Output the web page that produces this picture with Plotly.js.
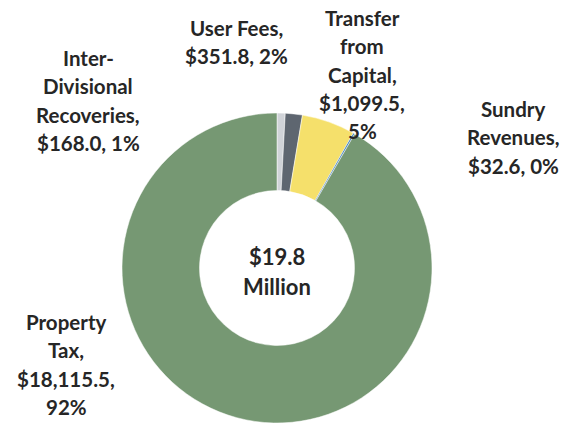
<!DOCTYPE html>
<html>
<head>
<meta charset="utf-8">
<script src="https://cdn.plot.ly/plotly-3.0.1.min.js"></script>
<style>html,body{margin:0;padding:0;background:#fff;}#chart{width:571px;height:423px;}</style>
</head>
<body>
<div id="chart"></div>
<script>
// Data (thousands of dollars)
const categories = ["Inter-Divisional Recoveries", "User Fees", "Transfer from Capital", "Sundry Revenues", "Property Tax"];
const values = [168.0, 351.8, 1099.5, 32.6, 18115.5];
const percentLabels = ["1%", "2%", "5%", "0%", "92%"];
const nameLines = [["Inter-", "Divisional", "Recoveries,"], ["User Fees,"], ["Transfer", "from", "Capital,"], ["Sundry", "Revenues,"], ["Property", "Tax,"]];
const colors = ["#D0D3D8", "#5E6670", "#F5E06B", "#2E75B6", "#769873"];

const W = 571, H = 423;
// label placement (pixel centre x, first line y, whether value and % are split)
const labelPos = [
  {x: 88, y: 58, split: false},
  {x: 236, y: 28, split: false},
  {x: 362, y: 18, split: true},
  {x: 513, y: 109, split: false},
  {x: 66, y: 322, split: true}
];
const lineH = 28.3;
const fmt = v => "$" + v.toLocaleString("en-US", {minimumFractionDigits: 1, maximumFractionDigits: 1});

const annotations = [];
const font = {family: "Lato, 'Noto Sans', sans-serif", size: 20.5, color: "#262626", weight: 700};
categories.forEach((c, i) => {
  let lines = nameLines[i].slice();
  if (labelPos[i].split) { lines.push(fmt(values[i]) + ","); lines.push(percentLabels[i]); }
  else lines.push(fmt(values[i]) + ", " + percentLabels[i]);
  lines.forEach((t, k) => {
    annotations.push({text: t, xref: "paper", yref: "paper", x: labelPos[i].x / W, y: 1 - (labelPos[i].y + k * lineH) / H,
      xanchor: "center", yanchor: "middle", showarrow: false, font: font});
  });
});
const total = values.reduce((a, b) => a + b, 0);
const centerLines = ["$" + (total / 1000).toFixed(1), "Million"];
centerLines.forEach((t, k) => {
  annotations.push({text: t, xref: "paper", yref: "paper", x: 277 / W, y: 1 - (256 + k * 30) / H,
    xanchor: "center", yanchor: "middle", showarrow: false, font: Object.assign({}, font, {size: 22})});
});

const cx = 277, cy = 268, r = 155;
const trace = {
  type: "pie", labels: categories, values: values, hole: 0.5, sort: false, direction: "clockwise", rotation: 0,
  textinfo: "none", hoverinfo: "label+value+percent",
  marker: {colors: colors, line: {color: "#ffffff", width: 0.5}},
  domain: {x: [(cx - r) / W, (cx + r) / W], y: [1 - (cy + r) / H, 1 - (cy - r) / H]}
};
Plotly.newPlot("chart", [trace], {
  width: W, height: H, margin: {l: 0, r: 0, t: 0, b: 0}, showlegend: false,
  paper_bgcolor: "#fff", annotations: annotations
}, {displayModeBar: false, staticPlot: true});
</script>
</body>
</html>
